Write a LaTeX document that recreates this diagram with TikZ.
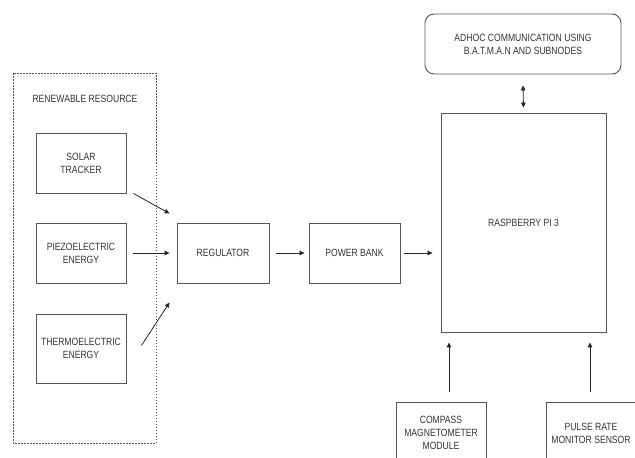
\documentclass[tikz,border=0pt]{standalone}
\usepackage{fontspec}
\setmainfont{Liberation Sans}[FakeStretch=0.82]
\usetikzlibrary{arrows.meta,calc}
\definecolor{linec}{HTML}{555555}
\definecolor{textc}{HTML}{333333}
\tikzset{
  box/.style={draw=linec, line width=0.9pt, fill=white, align=center, text=textc,
    font=\fontsize{10.5}{13}\selectfont, inner sep=0pt},
  conn/.style={draw=black!85, line width=0.8pt, -{Triangle[length=5pt,width=4.5pt]}},
  biconn/.style={draw=black!85, line width=0.8pt, {Triangle[length=5pt,width=4.5pt]}-{Triangle[length=5pt,width=4.5pt]}},
  lbl/.style={text=textc, font=\fontsize{10.5}{13}\selectfont, inner sep=0pt}
}
\begin{document}
\begin{tikzpicture}[x=1pt,y=-1pt]
\useasboundingbox (0,0) rectangle (635,458);
\clip (0,0) rectangle (635,458);
\fill[white] (0,0) rectangle (635,458);
% dashed group
\draw[linec, line width=0.8pt, dash pattern=on 1.5pt off 1.5pt] (13,73) rectangle (156,443);
\node[lbl] (rr) at (85,99) {RENEWABLE RESOURCE};
% sources
\node[box, minimum width=90pt, minimum height=60pt] (solar) at (81,163) {SOLAR\\TRACKER};
\node[box, minimum width=90pt, minimum height=60pt] (piezo) at (81,253) {PIEZOELECTRIC\\ENERGY};
\node[box, minimum width=90pt, minimum height=69pt] (thermo) at (81,348.5) {THERMOELECTRIC\\ENERGY};
% chain
\node[box, minimum width=92pt, minimum height=60pt] (reg) at (223,253) {REGULATOR};
\node[box, minimum width=91pt, minimum height=60pt] (pb) at (354.5,253) {POWER BANK};
\node[box, minimum width=165pt, minimum height=219pt] (rpi) at (523.5,222.5) {RASPBERRY PI 3};
\node[box, rounded corners=9pt, minimum width=196pt, minimum height=60pt] (adhoc) at (523,44) {ADHOC COMMUNICATION USING\\B.A.T.M.A.N AND SUBNODES};
\node[box, minimum width=90pt, minimum height=62pt] (compass) at (441,433) {COMPASS\\MAGNETOMETER\\MODULE};
\node[box, minimum width=90pt, minimum height=62pt] (pulse) at (591,433) {PULSE RATE\\MONITOR SENSOR};
% connector ends
\coordinate (s1) at ($(solar.south east)+(7,0)$);
\coordinate (s2) at ($(reg.north west)+(-7,-9)$);
\coordinate (p1) at ($(piezo.east)+(7,0)$);
\coordinate (p2) at ($(reg.west)+(-7,0)$);
\coordinate (t1) at ($(thermo.east)+(15,-3)$);
\coordinate (t2) at ($(reg.south west)+(-7,19)$);
\coordinate (rin) at (rpi.west |- pb.east);
\draw[conn] (s1) -- (s2);
\draw[conn] (p1) -- (p2);
\draw[conn] (t1) -- (t2);
\draw[conn] ($(reg.east)+(7,0)$) -- ($(pb.west)+(-4,0)$);
\draw[conn] ($(pb.east)+(4,0)$) -- ($(rin)+(-8,0)$);
\draw[biconn] ($(adhoc.south)+(0,11)$) -- ($(rpi.north)+(0,-5)$);
\draw[conn] ($(compass.north)+(8,-10)$) -- ($(rpi.south)+(-74.5,10)$);
\draw[conn] ($(pulse.north)+(-1,-10)$) -- ($(rpi.south)+(66.5,10)$);
\end{tikzpicture}
\end{document}
